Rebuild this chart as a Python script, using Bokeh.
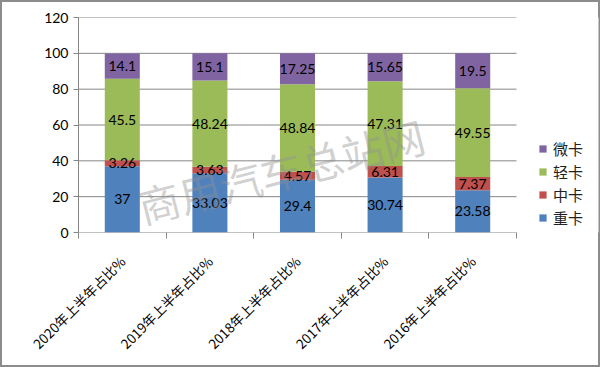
import numpy as np
from bokeh.plotting import figure
from bokeh.models import (FixedTicker, Legend, LegendItem, Label,
                          ColumnDataSource, Range1d)
from bokeh.core.properties import value
from bokeh.embed import file_html
from bokeh.resources import INLINE

# ---- data ----
categories = ["2020年上半年占比%", "2019年上半年占比%", "2018年上半年占比%",
              "2017年上半年占比%", "2016年上半年占比%"]
series = ["重卡", "中卡", "轻卡", "微卡"]
heavy = [37, 33.03, 29.4, 30.74, 23.58]
medium = [3.26, 3.63, 4.57, 6.31, 7.37]
light = [45.5, 48.24, 48.84, 47.31, 49.55]
mini = [14.1, 15.1, 17.25, 15.65, 19.5]
y_ticks = [0, 20, 40, 60, 80, 100, 120]
watermark = "商用汽车总站网"

colors = ["#4F81BD", "#C0504D", "#9BBB59", "#8064A2"]
GREY = "#868686"

n = len(categories)
xs = list(range(n))
values = [heavy, medium, light, mini]
src = ColumnDataSource({"x": xs, **{s: v for s, v in zip(series, values)}})

# frame spans to the right edge so the legend fits inside it;
# category area occupies 438 px of the 520 px frame
x_end = -0.5 + n * 520 / 438
p = figure(width=600, height=367, output_backend="svg", toolbar_location=None,
           x_range=Range1d(-0.5, x_end), y_range=Range1d(0, 120),
           min_border_left=78, min_border_right=2, min_border_top=17,
           min_border_bottom=135)
p.background_fill_color = "white"
p.border_fill_color = None
p.outline_line_color = None
p.styles = {"box-shadow": "inset 0 0 0 2px #8c8c8c", "background-color": "white"}

# grid lines and x axis line limited to category area
p.segment(x0=[-0.5] * len(y_ticks), x1=[n - 0.5] * len(y_ticks), y0=y_ticks,
          y1=y_ticks, line_color=GREY, line_width=1)

renderers = p.vbar_stack(series, x="x", width=0.4, color=colors,
                         line_color=None, source=src)

# data labels at segment centers
lx, ly, lt = [], [], []
for i in xs:
    bottom = 0.0
    for vals in values:
        v = vals[i]
        lx.append(i)
        ly.append(bottom + v / 2)
        lt.append(f"{v:g}")
        bottom += v
p.text(x=lx, y=ly, text=lt, text_align="center", text_baseline="middle",
       text_font=value("Lato"), text_font_size="14px", text_color="black")

# axes
p.xaxis.ticker = FixedTicker(ticks=xs,
                             minor_ticks=[i - 0.5 for i in range(n + 1)])
p.xaxis.major_label_overrides = {i: c for i, c in enumerate(categories)}
p.xaxis.major_label_orientation = np.pi / 4
p.xaxis.major_tick_out = 0
p.xaxis.major_tick_in = 0
p.xaxis.minor_tick_out = 6
p.xaxis.minor_tick_in = 0
p.xaxis.minor_tick_line_color = GREY
p.xaxis.axis_line_color = None
p.xaxis.major_label_text_font = "Noto Sans CJK SC"
p.xaxis.major_label_text_font_size = "13.5px"
p.xaxis.major_label_text_color = "black"
p.xaxis.major_label_standoff = 20

p.yaxis.ticker = FixedTicker(ticks=y_ticks, minor_ticks=[])
p.yaxis.major_tick_out = 5
p.yaxis.major_tick_in = 0
p.yaxis.major_tick_line_color = GREY
p.yaxis.axis_line_color = GREY
p.yaxis.major_label_text_font = "Lato"
p.yaxis.major_label_text_font_size = "14px"
p.yaxis.major_label_text_color = "black"
p.yaxis.major_label_standoff = 5

p.xgrid.visible = False
p.ygrid.visible = False

# legend (reverse order, top = 微卡)
items = [LegendItem(label=s, renderers=[r]) for s, r in zip(series, renderers)][::-1]
legend = Legend(items=items, location=(460, 4), padding=0, margin=0, spacing=2,
                glyph_width=9, glyph_height=9, label_height=16, label_standoff=6,
                border_line_color=None, background_fill_alpha=0,
                label_text_font="Noto Sans CJK SC", label_text_font_size="15px",
                label_text_color="#222222")
p.add_layout(legend)

# watermark
wm = Label(x=1.81, y=34.9, text=watermark, angle=0.25, text_align="center",
           text_baseline="middle", text_font="Noto Sans CJK SC",
           text_font_size="42px", text_color="#909090", text_alpha=0.42)
p.add_layout(wm)

open("out.html", "w").write(file_html(p, INLINE))
